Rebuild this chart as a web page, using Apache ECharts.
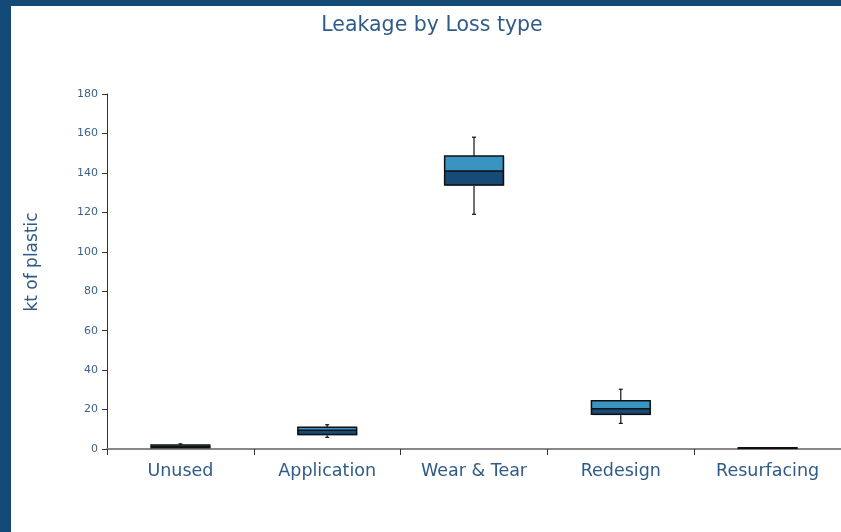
<!DOCTYPE html>
<html><head><meta charset="utf-8">
<script src="https://cdn.jsdelivr.net/npm/echarts@6/dist/echarts.min.js"></script>
<style>html,body{margin:0;padding:0;background:#fff}#c{width:841px;height:532px}</style>
</head><body><div id="c"></div>
<script>
const categories = ['Unused', 'Application', 'Wear & Tear', 'Redesign', 'Resurfacing'];
const whiskerLow = [0.8, 5.9, 119.0, 13.0, 0.2];
const q1 = [0.6, 7.3, 133.8, 17.6, 0.2];
const median = [1.2, 9.5, 141.0, 20.4, 0.4];
const q3 = [2.0, 11.0, 148.6, 24.5, 0.6];
const whiskerHigh = [2.6, 12.3, 158.1, 30.3, 0.7];
const yTicks = [0, 20, 40, 60, 80, 100, 120, 140, 160, 180];

const data = categories.map((c, i) => [i, whiskerLow[i], q1[i], median[i], q3[i], whiskerHigh[i]]);
const FONT = 'DejaVu Sans';

const chart = echarts.init(document.getElementById('c'), null, {renderer: 'canvas'});
chart.setOption({
  animation: false,
  backgroundColor: '#fff',
  title: {
    text: 'Leakage by Loss type', left: 427, top: 10, textAlign: 'center',
    textStyle: {fontFamily: FONT, fontWeight: 'normal', fontSize: 20.5, color: '#2f5b88'}
  },
  graphic: [
    {type: 'rect', shape: {x: 0, y: 0, width: 841, height: 6}, style: {fill: '#134a78'}, z: 100},
    {type: 'rect', shape: {x: 0, y: 0, width: 11, height: 532}, style: {fill: '#134a78'}, z: 100},
    {type: 'text', x: 33, y: 262, rotation: Math.PI / 2,
      style: {text: 'kt of plastic', font: '17px "DejaVu Sans"', fill: '#2f5b88', textAlign: 'center', textVerticalAlign: 'middle'}}
  ],
  grid: {left: 107, right: 0, top: 94, bottom: 83},
  xAxis: {
    type: 'category', data: categories, boundaryGap: true,
    axisLine: {lineStyle: {color: '#888', width: 2}},
    axisTick: {show: true, length: 6, lineStyle: {color: '#333'}},
    axisLabel: {fontFamily: FONT, fontSize: 17.5, color: '#2f5b88', margin: 13}
  },
  yAxis: {
    type: 'value', min: 0, max: 180, interval: 20,
    splitLine: {show: false},
    axisLine: {show: true, lineStyle: {color: '#333'}},
    axisTick: {show: true, length: 5, lineStyle: {color: '#333'}},
    axisLabel: {fontFamily: FONT, fontSize: 11, color: '#3d6289', margin: 9,
      formatter: v => yTicks.includes(v) ? String(v) : ''}
  },
  series: [{
    type: 'custom',
    data: data,
    encode: {x: 0, y: [1, 2, 3, 4, 5]},
    renderItem: function (params, api) {
      const idx = api.value(0);
      const pLow = api.coord([idx, api.value(1)]);
      const pQ1 = api.coord([idx, api.value(2)]);
      const pMed = api.coord([idx, api.value(3)]);
      const pQ3 = api.coord([idx, api.value(4)]);
      const pHigh = api.coord([idx, api.value(5)]);
      const bw = api.size([1, 0])[0] * 0.4;
      const x = pMed[0];
      const left = x - bw / 2;
      const cap = 2;
      const children = [
        {type: 'line', shape: {x1: x, y1: pHigh[1], x2: x, y2: pLow[1]}, style: {stroke: '#111', lineWidth: 1.2}},
        {type: 'line', shape: {x1: x - cap, y1: pHigh[1], x2: x + cap, y2: pHigh[1]}, style: {stroke: '#111', lineWidth: 1.2}},
        {type: 'line', shape: {x1: x - cap, y1: pLow[1], x2: x + cap, y2: pLow[1]}, style: {stroke: '#111', lineWidth: 1.2}},
        {type: 'rect', shape: {x: left + 1, y: pQ3[1] + 1, width: bw, height: Math.max(pQ1[1] - pQ3[1], 1)}, style: {fill: '#aaa'}},
        {type: 'rect', shape: {x: left, y: pQ3[1], width: bw, height: pMed[1] - pQ3[1]}, style: {fill: '#3a94c2'}},
        {type: 'rect', shape: {x: left, y: pMed[1], width: bw, height: pQ1[1] - pMed[1]}, style: {fill: '#164b77'}},
        {type: 'rect', shape: {x: left, y: pQ3[1], width: bw, height: Math.max(pQ1[1] - pQ3[1], 0.5)}, style: {fill: 'none', stroke: '#111', lineWidth: 1.5}},
        {type: 'line', shape: {x1: left, y1: pMed[1], x2: left + bw, y2: pMed[1]}, style: {stroke: '#111', lineWidth: 1.5}}
      ];
      return {type: 'group', children: children};
    }
  }]
});
</script></body></html>
